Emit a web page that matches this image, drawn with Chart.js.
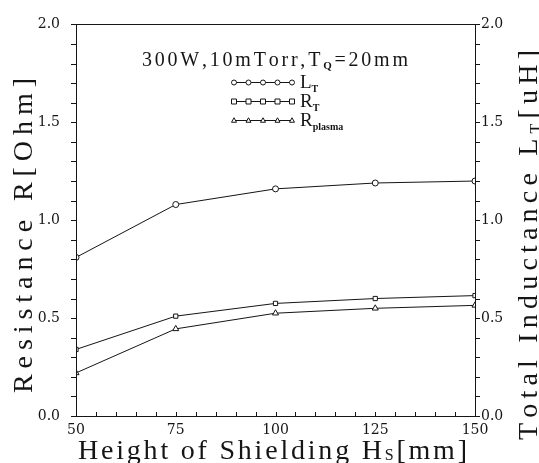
<!DOCTYPE html>
<html>
<head>
<script src="https://cdn.jsdelivr.net/npm/chart.js"></script>
<style>
  html, body { margin: 0; padding: 0; background: #fff; }
</style>
</head>
<body>
<canvas id="c" width="539" height="463"></canvas>
<script>
// data
const heights = [50, 75, 100, 125, 150];            // H_S [mm]
const inductanceLT = [0.81, 1.08, 1.16, 1.19, 1.20]; // L_T [uH]
const resistanceRT = [0.34, 0.51, 0.575, 0.60, 0.615];
const resistancePlasma = [0.22, 0.445, 0.525, 0.55, 0.565];
const xTicks = [50, 75, 100, 125, 150];
const yTicks = [0, 0.5, 1.0, 1.5, 2.0];

const INK = '#151515';
const SERIF = '"Liberation Serif", "DejaVu Serif", serif';
const TICKFONT = { family: '"DejaVu Serif", serif', size: 14 };

const pts = arr => heights.map((h, i) => ({ x: h, y: arr[i] }));

// draw a list of text segments with spacing stretched to a target width
function spacedText(ctx, segs, x0, base, target) {
  let chars = [];
  segs.forEach(s => {
    for (const ch of s.t) chars.push({ ch, font: s.font, dy: s.dy || 0 });
  });
  let natural = 0;
  chars.forEach(c => { ctx.font = c.font; c.w = ctx.measureText(c.ch).width; natural += c.w; });
  const gap = chars.length > 1 ? (target - natural) / (chars.length - 1) : 0;
  let x = x0;
  chars.forEach(c => {
    ctx.font = c.font;
    ctx.fillText(c.ch, x, base + c.dy);
    x += c.w + gap;
  });
}

function marker(ctx, style, x, y, r) {
  ctx.beginPath();
  if (style === 'circle') {
    ctx.arc(x, y, r, 0, Math.PI * 2);
  } else if (style === 'rect') {
    ctx.rect(x - r, y - r, 2 * r, 2 * r);
  } else {
    ctx.moveTo(x, y - r * 1.1);
    ctx.lineTo(x + r, y + r * 0.7);
    ctx.lineTo(x - r, y + r * 0.7);
    ctx.closePath();
  }
  ctx.fillStyle = '#fff';
  ctx.fill();
  ctx.stroke();
}

const decor = {
  id: 'decor',
  afterDraw(chart) {
    const ctx = chart.ctx;
    const a = chart.chartArea;
    const xs = chart.scales.x, ys = chart.scales.y;
    ctx.save();
    ctx.strokeStyle = INK;
    ctx.fillStyle = INK;
    ctx.lineWidth = 1;

    // frame
    ctx.strokeRect(Math.round(a.left) + 0.5, Math.round(a.top) + 0.5,
      Math.round(a.right - a.left), Math.round(a.bottom - a.top));

    // small ticks
    ctx.beginPath();
    for (let i = 0; i <= 20; i++) {
      const py = Math.round(ys.getPixelForValue(i / 10)) + 0.5;
      ctx.moveTo(a.left - 5, py); ctx.lineTo(a.left, py);
      ctx.moveTo(a.right, py); ctx.lineTo(a.right + 5, py);
      const px = Math.round(xs.getPixelForValue(50 + i * 5)) + 0.5;
      ctx.moveTo(px, a.bottom); ctx.lineTo(px, a.bottom - 4);
    }
    ctx.stroke();

    ctx.textBaseline = 'alphabetic';
    ctx.textAlign = 'left';
    const big = '28px ' + SERIF, sub = '16px ' + SERIF;

    // x title
    spacedText(ctx, [
      { t: 'Height of Shielding H', font: big },
      { t: 'S', font: sub, dy: 1 },
      { t: '[mm]', font: big }
    ], 78, 459, 389);

    // left title
    ctx.save();
    ctx.translate(22, 236);
    ctx.rotate(-Math.PI / 2);
    spacedText(ctx, [{ t: 'Resistance R[Ohm]', font: big }], -157, 10, 315);
    ctx.restore();

    // right title
    ctx.save();
    ctx.translate(527, 245);
    ctx.rotate(-Math.PI / 2);
    spacedText(ctx, [
      { t: 'Total Inductance L', font: big },
      { t: 'T', font: sub, dy: 4 },
      { t: '[uH]', font: big }
    ], -195, 10, 390);
    ctx.restore();

    // annotation
    const mid = '20px ' + SERIF, small = '11px ' + SERIF;
    spacedText(ctx, [
      { t: '300W,10mTorr,T', font: mid },
      { t: 'Q', font: 'bold ' + small, dy: 3 },
      { t: '=20mm', font: mid }
    ], 142, 66, 266);

    // legend
    const rows = [
      { y: 82, style: 'circle', main: 'L', sub: 'T' },
      { y: 101, style: 'rect', main: 'R', sub: 'T' },
      { y: 120, style: 'triangle', main: 'R', sub: 'plasma' }
    ];
    rows.forEach(r => {
      ctx.beginPath();
      ctx.moveTo(234, r.y + 0.5); ctx.lineTo(292, r.y + 0.5);
      ctx.stroke();
      for (let i = 0; i < 5; i++) marker(ctx, r.style, 234 + i * 14.5, r.y + 0.5, 2.5);
      ctx.fillStyle = INK;
      ctx.font = '19px ' + SERIF;
      ctx.fillText(r.main, 300, r.y + 6);
      const w = ctx.measureText(r.main).width;
      ctx.font = 'bold 10px ' + SERIF;
      ctx.fillText(r.sub, 300 + w, r.y + 10);
    });

    ctx.restore();
  }
};

const lineStyle = (label, data, style, axis) => ({
  label, data: pts(data), yAxisID: axis,
  borderColor: INK, borderWidth: 1,
  pointStyle: style, pointRadius: style === 'triangle' ? 3.5 : 3,
  pointBorderColor: INK, pointBackgroundColor: '#fff', pointBorderWidth: 1,
  tension: 0, fill: false
});

new Chart(document.getElementById('c'), {
  type: 'line',
  data: {
    datasets: [
      lineStyle('L_T', inductanceLT, 'circle', 'y2'),
      lineStyle('R_T', resistanceRT, 'rect', 'y'),
      lineStyle('R_plasma', resistancePlasma, 'triangle', 'y')
    ]
  },
  options: {
    responsive: false,
    animation: false,
    devicePixelRatio: 1,
    layout: { padding: { top: 17, left: 0, right: 0, bottom: 0 } },
    plugins: { legend: { display: false }, tooltip: { enabled: false } },
    scales: {
      x: {
        type: 'linear', min: 50, max: 150,
        afterBuildTicks: s => { s.ticks = xTicks.map(v => ({ value: v })); },
        afterFit: s => { s.height = 47; },
        grid: { display: false, drawTicks: false },
        border: { display: false },
        ticks: { color: INK, font: TICKFONT, padding: 6, maxRotation: 0 }
      },
      y: {
        position: 'left', min: 0, max: 2,
        afterBuildTicks: s => { s.ticks = yTicks.map(v => ({ value: v })); },
        afterFit: s => { s.width = 76; },
        grid: { display: false, drawTicks: false },
        border: { display: false },
        ticks: { color: INK, font: TICKFONT, padding: 16, callback: v => Number(v).toFixed(1) }
      },
      y2: {
        position: 'right', min: 0, max: 2,
        afterBuildTicks: s => { s.ticks = yTicks.map(v => ({ value: v })); },
        afterFit: s => { s.width = 64; },
        grid: { display: false, drawTicks: false },
        border: { display: false },
        ticks: { color: INK, font: TICKFONT, padding: 6, callback: v => Number(v).toFixed(1) }
      }
    }
  },
  plugins: [decor]
});
</script>
</body>
</html>
